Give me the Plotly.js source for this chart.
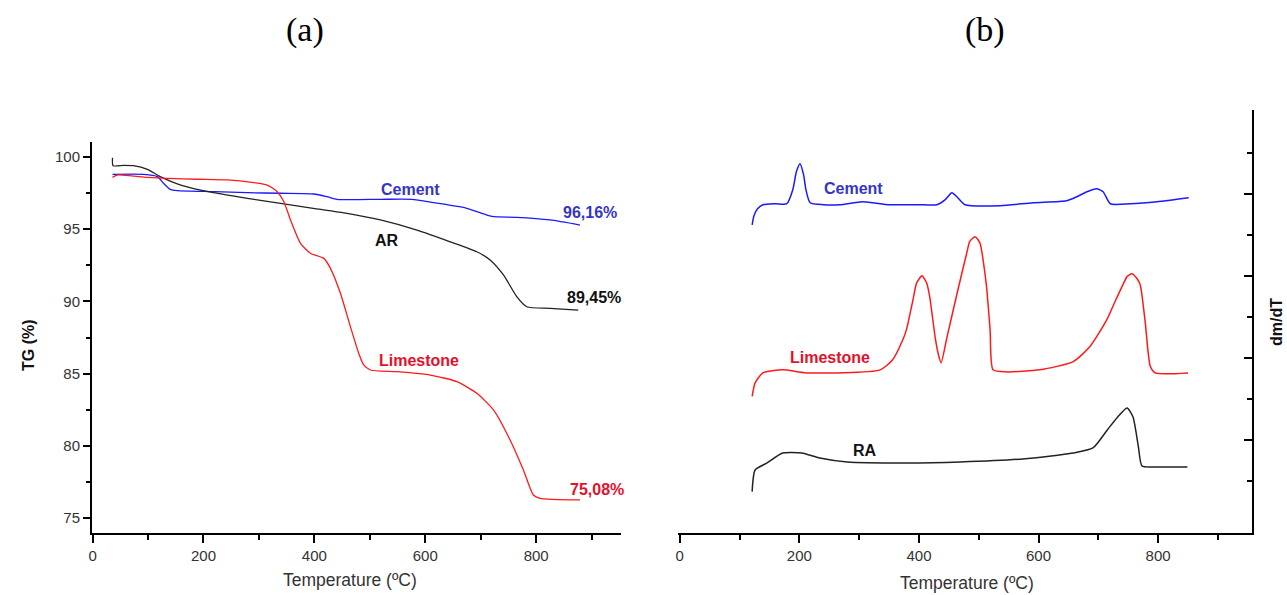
<!DOCTYPE html>
<html>
<head>
<meta charset="utf-8">
<script src="https://cdn.plot.ly/plotly-3.0.1.min.js"></script>
<style>html,body{margin:0;padding:0;background:#fff;}#chart{width:1287px;height:595px;}</style>
</head>
<body>
<div id="chart"></div>
<script>
// ---- (a) TG curves ----
const tgAR_x = [36, 37, 56, 74, 99, 122, 159, 218, 279, 339, 398, 459, 519, 585, 645, 693, 717, 741, 765, 783, 825, 876];
const tgAR_y = [99.95, 99.4, 99.42, 99.4, 99.15, 98.64, 98.06, 97.53, 97.14, 96.79, 96.45, 96.1, 95.64, 94.94, 94.13, 93.44, 92.87, 91.83, 90.33, 89.63, 89.52, 89.4];

const tgCement_x = [36, 92, 117, 128, 140, 153, 219, 279, 339, 399, 423, 441, 519, 576, 615, 675, 711, 723, 765, 825, 879];
const tgCement_y = [98.8, 98.8, 98.64, 98.18, 97.76, 97.67, 97.6, 97.53, 97.49, 97.44, 97.25, 97.07, 97.07, 97.07, 96.84, 96.45, 95.98, 95.87, 95.82, 95.64, 95.29];

const tgLime_x = [36, 44, 99, 135, 189, 243, 291, 315, 333, 345, 357, 375, 393, 417, 429, 447, 465, 480, 489, 501, 549, 609, 657, 693, 723, 753, 777, 795, 807, 879];
const tgLime_y = [98.59, 98.75, 98.59, 98.52, 98.46, 98.41, 98.22, 98.06, 97.6, 96.9, 95.64, 94.02, 93.33, 92.98, 92.29, 90.56, 88.25, 86.41, 85.6, 85.25, 85.13, 84.9, 84.44, 83.64, 82.48, 80.4, 78.32, 76.59, 76.36, 76.25];

// ---- (b) DTG curves (arbitrary units) ----
const dtgCement_x = [121, 124, 130, 139, 160, 179, 189, 195, 201, 207, 211, 218, 240, 268, 306, 351, 400, 430, 444, 455, 465, 477, 536, 591, 647, 664, 681, 697, 708, 720, 753, 798, 851];
const dtgCement_y = [2.62, 2.732, 2.817, 2.866, 2.878, 2.878, 3.049, 3.268, 3.366, 3.232, 3.049, 2.890, 2.866, 2.866, 2.902, 2.866, 2.866, 2.866, 2.927, 3.012, 2.951, 2.866, 2.854, 2.890, 2.915, 2.963, 3.024, 3.061, 3.024, 2.878, 2.878, 2.902, 2.951];

const dtgLime_x = [121, 126, 139, 172, 212, 335, 356, 373, 379, 390, 396, 405, 413, 418, 427, 432, 437, 447, 464, 480, 485, 494, 502, 508, 513, 519, 524, 547, 602, 658, 686, 714, 728, 741, 748, 756, 764, 770, 778, 787, 795, 850];
const dtgLime_y = [0.53, 0.695, 0.817, 0.854, 0.817, 0.854, 0.976, 1.220, 1.341, 1.707, 1.91, 2.0, 1.91, 1.744, 1.256, 1.057, 0.939, 1.256, 1.793, 2.280, 2.418, 2.476, 2.40, 2.155, 1.87, 1.341, 0.854, 0.829, 0.854, 0.955, 1.138, 1.463, 1.687, 1.890, 1.99, 2.024, 1.972, 1.890, 1.463, 0.894, 0.817, 0.817];

const dtgRA_x = [121, 126, 146, 172, 204, 234, 280, 380, 469, 574, 658, 691, 715, 731, 748, 758, 767, 773, 792, 849];
const dtgRA_y = [-0.630, -0.366, -0.280, -0.159, -0.159, -0.220, -0.268, -0.280, -0.268, -0.232, -0.159, -0.098, 0.122, 0.268, 0.390, 0.280, -0.085, -0.317, -0.329, -0.329];

const majorTicksB = [0, 1, 2, 3];
const minorTicksB = [-0.5, 0.5, 1.5, 2.5, 3.5];

const BLUE = '#1a1aff', RED = '#ff1a1a', BLACK = '#222222';
const BLUE_T = '#3535c8', RED_T = '#e5102a';
const FONT = 'Liberation Sans, Arial, sans-serif';
const SERIF = 'Liberation Serif, Times New Roman, serif';

const W = 1287, H = 595;
const px = v => v / W, py = v => 1 - v / H;

const lineA = {mode: 'lines', xaxis: 'x', yaxis: 'y', hoverinfo: 'skip', line: {width: 1.3, shape: 'spline', smoothing: 0.6}};
const lineB = {mode: 'lines', xaxis: 'x2', yaxis: 'y2', hoverinfo: 'skip', line: {width: 1.5, shape: 'spline', smoothing: 0.6}};

const traces = [
  Object.assign({}, lineA, {x: tgCement_x, y: tgCement_y, line: Object.assign({}, lineA.line, {color: BLUE})}),
  Object.assign({}, lineA, {x: tgAR_x, y: tgAR_y, line: Object.assign({}, lineA.line, {color: BLACK})}),
  Object.assign({}, lineA, {x: tgLime_x, y: tgLime_y, line: Object.assign({}, lineA.line, {color: RED})}),
  Object.assign({}, lineB, {x: dtgCement_x, y: dtgCement_y, line: Object.assign({}, lineB.line, {color: BLUE})}),
  Object.assign({}, lineB, {x: dtgLime_x, y: dtgLime_y, line: Object.assign({}, lineB.line, {color: RED})}),
  Object.assign({}, lineB, {x: dtgRA_x, y: dtgRA_y, line: Object.assign({}, lineB.line, {color: BLACK})})
];

const tickFont = {family: FONT, size: 15, color: '#333'};
const xCommon = {
  showgrid: false, zeroline: false, showline: true, linecolor: '#000', linewidth: 2,
  ticks: 'outside', ticklen: 8, tickwidth: 2, tickcolor: '#000',
  tickmode: 'linear', tick0: 0, dtick: 200, tickfont: tickFont,
  minor: {dtick: 100, tick0: 0, ticks: 'outside', ticklen: 5, tickwidth: 2, tickcolor: '#000', showgrid: false}
};

const ann = (text, x, y, xref, yref, color, size, extra) => Object.assign({
  text: text, x: x, y: y, xref: xref, yref: yref, showarrow: false,
  xanchor: 'center', yanchor: 'middle', font: {family: FONT, size: size, color: color}
}, extra || {});

const layout = {
  width: W, height: H, margin: {l: 0, r: 0, t: 0, b: 0},
  paper_bgcolor: '#fff', plot_bgcolor: 'rgba(0,0,0,0)', showlegend: false,
  xaxis: Object.assign({}, xCommon, {domain: [px(92), px(621)], range: [-1, 953], anchor: 'y'}),
  yaxis: {
    domain: [py(533), py(142)], range: [73.96, 101.04], anchor: 'x',
    showgrid: false, zeroline: false, showline: true, linecolor: '#000', linewidth: 2,
    ticks: 'outside', ticklen: 7, tickwidth: 2, tickcolor: '#000',
    tickmode: 'linear', tick0: 0, dtick: 5, tickfont: tickFont,
    minor: {dtick: 2.5, tick0: 0, ticks: 'outside', ticklen: 4, tickwidth: 2, tickcolor: '#000', showgrid: false}
  },
  xaxis2: Object.assign({}, xCommon, {domain: [px(678), px(1252)], range: [-3, 957], anchor: 'y2'}),
  yaxis2: {
    domain: [py(533), py(110)], range: [-1.134, 4.02], anchor: 'x2', side: 'right',
    showgrid: false, zeroline: false, showline: true, linecolor: '#000', linewidth: 2,
    ticks: 'inside', ticklen: 8, tickwidth: 2, tickcolor: '#000', showticklabels: false,
    tickmode: 'array', tickvals: majorTicksB,
    minor: {tickmode: 'array', tickvals: minorTicksB, ticks: 'inside', ticklen: 5, tickwidth: 2, tickcolor: '#000', showgrid: false}
  },
  annotations: [
    ann('(a)', px(305), py(30), 'paper', 'paper', '#000', 34, {font: {family: SERIF, size: 34, color: '#000'}}),
    ann('(b)', px(985), py(30), 'paper', 'paper', '#000', 34, {font: {family: SERIF, size: 34, color: '#000'}}),
    ann('<b>TG (%)</b>', px(28), py(345), 'paper', 'paper', '#111', 16, {textangle: -90}),
    ann('Temperature (ºC)', px(350), py(580), 'paper', 'paper', '#333', 17.5),
    ann('Temperature (ºC)', px(967), py(583), 'paper', 'paper', '#333', 17.5),
    ann('<b>dm/dT</b>', px(1276), py(322), 'paper', 'paper', '#111', 16, {textangle: -90}),
    ann('<b>Cement</b>', 573, 97.78, 'x', 'y', BLUE_T, 16),
    ann('<b>AR</b>', 531.5, 94.25, 'x', 'y', '#111', 16),
    ann('<b>96,16%</b>', 897, 96.19, 'x', 'y', BLUE_T, 16),
    ann('<b>89,45%</b>', 904.5, 90.24, 'x', 'y', '#111', 16),
    ann('<b>Limestone</b>', 589, 85.94, 'x', 'y', RED_T, 16),
    ann('<b>75,08%</b>', 910, 76.94, 'x', 'y', RED_T, 16),
    ann('<b>Cement</b>', 291, 3.061, 'x2', 'y2', BLUE_T, 16),
    ann('<b>Limestone</b>', 251, 1.0, 'x2', 'y2', RED_T, 16),
    ann('<b>RA</b>', 309.6, -0.134, 'x2', 'y2', '#111', 16)
  ]
};

Plotly.newPlot('chart', traces, layout, {staticPlot: true, displayModeBar: false});
</script>
</body>
</html>
